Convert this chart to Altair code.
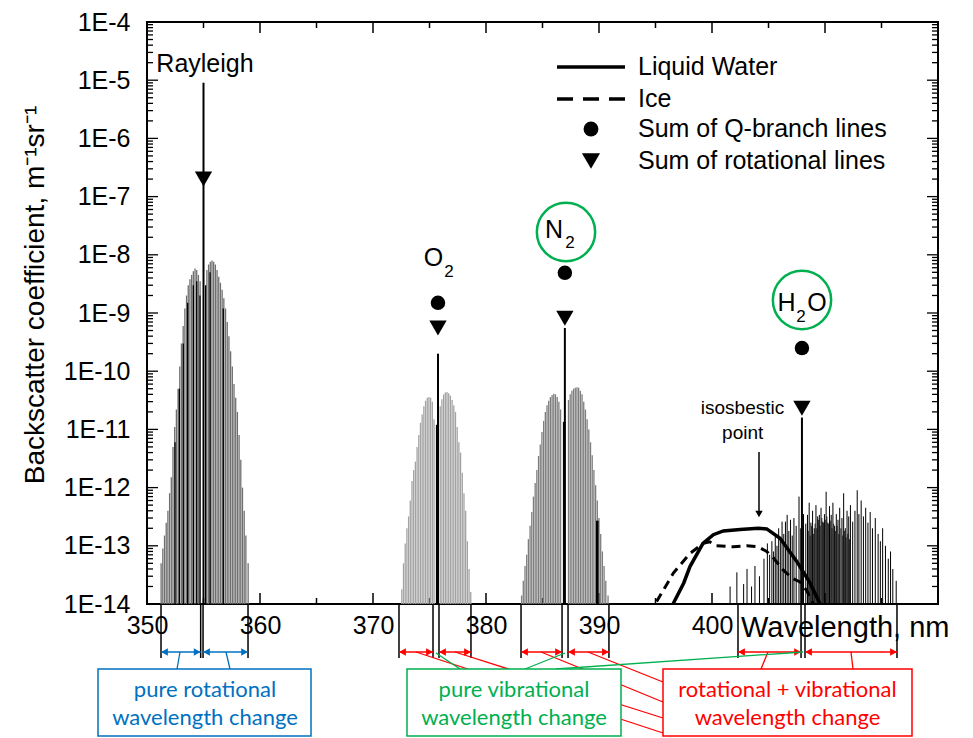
import altair as alt
import pandas as pd

FONT = "Liberation Sans"
BOXFONT = "Lato"
BLUE, GREEN, RED = "#0070C0", "#00B050", "#FF0000"
W, H = 791, 582

# ---------------- spectral data (wavelength nm, backscatter m^-1 sr^-1) ----------------
ray_wl = [351.25, 351.40, 351.55, 351.70, 351.85, 352.00, 352.15, 352.30, 352.45, 352.60, 352.75, 352.90,
          353.05, 353.20, 353.35, 353.50, 353.65, 353.80, 353.95, 354.10, 354.25, 354.40, 354.55, 354.70,
          355.30, 355.45, 355.60, 355.75, 355.90, 356.05, 356.20, 356.35, 356.50, 356.65, 356.80, 356.95,
          357.10, 357.25, 357.40, 357.55, 357.70, 357.85, 358.00, 358.15, 358.30, 358.45, 358.60, 358.75, 358.95]
ray_val = [5e-14, 9e-14, 1.5e-13, 2.5e-13, 4e-13, 8e-13, 1.5e-12, 5e-12, 1.1e-11, 2.2e-11, 5e-11, 1.2e-10,
           3e-10, 6e-10, 1.2e-9, 2e-9, 3e-9, 3.8e-9, 4.5e-9, 5.2e-9, 5.8e-9, 5.5e-9, 4.5e-9, 3.5e-9,
           5.5e-9, 6.8e-9, 7.6e-9, 8e-9, 7.6e-9, 6.8e-9, 5.5e-9, 4.2e-9, 3.3e-9, 2.5e-9, 1.8e-9, 1.2e-9,
           7e-10, 4e-10, 2.2e-10, 1.2e-10, 6e-11, 3.5e-11, 2e-11, 8e-12, 3e-12, 1e-12, 4e-13, 1.5e-13, 5e-14]
ray_black_wl = [352.48, 352.86, 353.21, 353.60, 354.10, 354.40, 354.69, 355.19, 355.58, 356.75]
ray_black_val = [6e-12, 5e-11, 3e-10, 1.5e-9, 3e-9, 3.5e-9, 2e-9, 3e-9, 5e-9, 1.2e-9]

o2_wl = [372.55, 372.70, 372.85, 373.00, 373.15, 373.30, 373.45, 373.60, 373.75, 373.90, 374.05, 374.20,
         374.35, 374.50, 374.65, 374.80, 374.95, 375.10, 375.25, 375.40,
         375.95, 376.10, 376.25, 376.40, 376.55, 376.70, 376.85, 377.00, 377.15, 377.30, 377.45, 377.60,
         377.75, 377.90, 378.05, 378.20, 378.35, 378.50, 378.65]
o2_val = [1.8e-14, 5e-14, 1.1e-13, 2e-13, 3.2e-13, 6e-13, 1.3e-12, 2e-12, 2.8e-12, 5e-12, 8e-12, 1.3e-11,
          1.8e-11, 2.5e-11, 3.1e-11, 3.5e-11, 3.6e-11, 3.5e-11, 3e-11, 1.5e-11,
          2.5e-11, 3.3e-11, 4e-11, 4.3e-11, 4.4e-11, 4.2e-11, 3.8e-11, 3.2e-11, 2.6e-11, 2e-11, 1.1e-11, 6e-12,
          4e-12, 1.8e-12, 8e-13, 4e-13, 1.2e-13, 4e-14, 1.6e-14]

n2_wl = [383.15, 383.30, 383.45, 383.60, 383.75, 383.90, 384.05, 384.20, 384.35, 384.50, 384.65, 384.80,
         384.95, 385.10, 385.25, 385.40, 385.55, 385.70, 385.85, 386.00, 386.15, 386.30, 386.45, 386.60,
         387.30, 387.45, 387.60, 387.75, 387.90, 388.05, 388.20, 388.35, 388.50, 388.65, 388.80, 388.95,
         389.10, 389.25, 389.40, 389.55, 389.70, 389.85, 390.00, 390.15, 390.30, 390.45, 390.60, 390.80]
n2_val = [1.4e-14, 2.5e-14, 4.5e-14, 7e-14, 1.3e-13, 2.2e-13, 3.8e-13, 7e-13, 1.2e-12, 2e-12, 3.5e-12, 5.5e-12,
          9e-12, 1.4e-11, 2e-11, 2.6e-11, 3.1e-11, 3.6e-11, 3.9e-11, 4.1e-11, 4e-11, 3.6e-11, 3e-11, 2.2e-11,
          3.2e-11, 4e-11, 4.6e-11, 5e-11, 5.2e-11, 5.3e-11, 5.2e-11, 4.6e-11, 4e-11, 3e-11, 2.2e-11, 1.5e-11,
          1e-11, 6e-12, 3.6e-12, 2e-12, 1.1e-12, 6e-13, 3e-13, 1.6e-13, 8e-14, 4.5e-14, 2.5e-14, 1.4e-14]

h2o_wl = [401.6, 402.2, 402.8, 403.1, 403.5, 403.8, 404.2, 404.6, 404.9, 405.1,
          405.3, 405.45, 405.6, 405.75, 405.9, 406.05, 406.2, 406.35, 406.5, 406.65,
          406.8, 406.95, 407.1, 407.25, 407.45, 407.7, 407.85, 408.1, 408.3, 408.45,
          408.6, 408.75, 408.9, 409.05, 409.2, 409.35, 409.5, 409.65, 409.8, 409.95,
          410.1, 410.25, 410.4, 410.55, 410.7, 410.85, 411.0, 411.15, 411.3, 411.5,
          411.65, 411.8, 411.95, 412.1, 412.25, 412.45, 412.65, 412.85, 413.0, 413.2,
          413.4, 413.6, 413.8, 414.0, 414.2, 414.45, 414.7, 414.9, 415.1, 415.35,
          415.6, 415.8, 416.0, 416.3]
h2o_val = [2e-14, 3.5e-14, 2.2e-14, 4e-14, 2e-14, 4.5e-14, 3e-14, 6e-14, 1.1e-13, 7e-14,
           1.2e-13, 8e-14, 1.5e-13, 1e-13, 2e-13, 1.4e-13, 2.6e-13, 1.6e-13, 2.6e-13, 3.4e-13,
           1.8e-13, 2.8e-13, 1.5e-13, 3e-13, 2.2e-13, 7e-13, 2e-13, 3.5e-13, 2.4e-13, 3.4e-13,
           5.5e-13, 2.5e-13, 4e-13, 2e-13, 5e-13, 3.2e-13, 3.4e-13, 4.5e-13, 2.6e-13, 3.5e-13,
           8.5e-13, 2.5e-13, 4.8e-13, 3.4e-13, 5.5e-13, 2.2e-13, 3.5e-13, 2.8e-13, 4.5e-13, 3e-13,
           8e-13, 2e-13, 4e-13, 3.2e-13, 5e-13, 2.6e-13, 4e-13, 9e-13, 3.5e-13, 6e-13,
           3.2e-13, 4.5e-13, 2.5e-13, 3.8e-13, 2e-13, 3e-13, 1.6e-13, 1.2e-13, 2e-13, 1e-13,
           6e-14, 8e-14, 4e-14, 2.5e-14]
h2o_dense_wl = [408.52, 408.68, 408.82, 408.97, 409.12, 409.27, 409.42, 409.57, 409.72, 409.87, 410.02, 410.17,
                410.32, 410.47, 410.62, 410.77, 410.92, 411.07, 411.22, 411.40, 411.57, 411.72, 411.87, 412.02, 412.17]
h2o_dense_val = [1.8e-13, 1.5e-13, 2.2e-13, 1.6e-13, 2.4e-13, 2e-13, 2.8e-13, 2.2e-13, 3e-13, 2.5e-13, 2.8e-13, 3.2e-13,
                 2.4e-13, 2.7e-13, 2e-13, 2.4e-13, 1.8e-13, 2.2e-13, 1.6e-13, 2e-13, 1.5e-13, 1.8e-13, 1.4e-13, 1.6e-13, 1.3e-13]

# strong central lines (Rayleigh, O2 / N2 / H2O Q-branches)
q_line_wl = [355.0, 375.75, 386.98, 407.96]
q_line_val = [9e-6, 2e-10, 5.5e-10, 1.6e-11]
q_core_wl = [375.68, 386.92, 389.85]
q_core_val = [1.2e-11, 1.35e-11, 2.7e-13]

# markers
qsum_wl = [375.75, 386.98, 407.96]
qsum_val = [1.5e-9, 4.9e-9, 2.5e-10]
rot_wl = [355.0, 375.75, 386.98, 407.96]
rot_val = [2e-7, 5.5e-10, 8.1e-10, 2.3e-11]

# liquid water and ice spectra
liq_wl = [396.55, 397.5, 398.05, 399.2, 400.12, 401.0, 402.48, 404.1, 404.84, 406.02, 407.5, 408.67, 409.56]
liq_val = [1e-14, 2.3e-14, 4.4e-14, 1.1e-13, 1.55e-13, 1.8e-13, 1.9e-13, 2.0e-13, 1.95e-13, 1.35e-13, 5.4e-14, 2.3e-14, 1e-14]
ice_wl = [395.1, 396.58, 398.05, 399.23, 399.8, 400.4, 401.9, 403.07, 404.1, 404.84, 405.43, 406.31, 407.2, 407.79, 408.38, 408.97]
ice_val = [1.1e-14, 3.4e-14, 7.4e-14, 1.1e-13, 1.17e-13, 1.0e-13, 9.6e-14, 1.0e-13, 9.6e-14, 8e-14, 6.2e-14, 3.8e-14, 2.7e-14, 2.4e-14, 1.7e-14, 1e-14]

# bracket marks below the axis
bracket_wl = [351.24, 354.75, 354.96, 358.94, 372.30, 375.31, 375.84, 378.67,
              383.10, 386.73, 387.26, 390.88, 402.30, 407.88, 408.23, 416.37]
arrow_start = [351.24, 354.96, 372.30, 375.84, 383.10, 387.26, 402.30, 408.23]
arrow_end = [354.75, 358.94, 375.31, 378.67, 386.73, 390.88, 407.88, 416.37]
arrow_color = [BLUE, BLUE, RED, RED, RED, RED, RED, RED]

# axis ticks
x_labels = [350, 360, 370, 380, 390, 400]
x_major = [350, 360, 370, 380, 390, 400, 410, 420]
x_minor = [355, 365, 375, 385, 395, 405, 415]
y_major = [10.0 ** e for e in range(-14, -3)]
y_minor = [k * 10.0 ** e for e in range(-14, -4) for k in range(2, 10)]

# ---------------- encodings ----------------
XS = alt.Scale(domain=[350, 420], nice=False, zero=False)
YS = alt.Scale(type="log", domain=[1e-14, 1e-4], nice=False)
XAX = alt.Axis(values=x_labels, title=None, ticks=False, domain=False, grid=False, labelFont=FONT,
               labelFontSize=25, labelColor="black", labelPadding=9, labelFlush=False, labelOverlap=False)
YAX = alt.Axis(values=y_major, title=None, ticks=False, domain=False, grid=False, labelFont=FONT,
               labelFontSize=25, labelColor="black", labelPadding=17, labelFlush=False, labelOverlap=False,
               labelExpr="'1E' + round(log(datum.value) / LN10)")


def X(f="wl"):
    return alt.X(f"{f}:Q", scale=XS, axis=XAX)


def Y(f="val"):
    return alt.Y(f"{f}:Q", scale=YS, axis=YAX)


def PX(f):
    return alt.X(f"{f}:Q", scale=None, axis=None)


def PY(f):
    return alt.Y(f"{f}:Q", scale=None, axis=None)


layers = []

# ticks (inward, all four sides)
for vals, ln in ((x_major, 11), (x_minor, 6)):
    d = pd.DataFrame({"wl": vals})
    layers.append(alt.Chart(d).mark_rule(color="black", strokeWidth=1.5).encode(x=X(), y=alt.value(H), y2=alt.value(H - ln)))
    layers.append(alt.Chart(d).mark_rule(color="black", strokeWidth=1.5).encode(x=X(), y=alt.value(0), y2=alt.value(ln)))
for vals, ln in ((y_major, 11), (y_minor, 6)):
    d = pd.DataFrame({"val": vals})
    layers.append(alt.Chart(d).mark_rule(color="black", strokeWidth=1.3).encode(y=Y(), x=alt.value(0), x2=alt.value(ln)))
    layers.append(alt.Chart(d).mark_rule(color="black", strokeWidth=1.3).encode(y=Y(), x=alt.value(W), x2=alt.value(W - ln)))


def band(wl, val, color, width):
    d = pd.DataFrame({"wl": wl, "val": val})
    return alt.Chart(d).mark_rule(color=color, strokeWidth=width).encode(x=X(), y=Y(), y2=alt.value(H))


layers += [
    band(ray_wl, ray_val, "#6f6f6f", 1.3),
    band(ray_black_wl, ray_black_val, "black", 1.3),
    band(o2_wl, o2_val, "#a3a3a3", 1.3),
    band(n2_wl, n2_val, "#7d7d7d", 1.3),
    band(h2o_wl, h2o_val, "black", 1.0),
    band(h2o_dense_wl, h2o_dense_val, "black", 0.8),
    band(q_core_wl, q_core_val, "black", 2.6),
    band(q_line_wl, q_line_val, "black", 2.0),
]

# water / ice curves
layers.append(alt.Chart(pd.DataFrame({"wl": liq_wl, "val": liq_val})).mark_line(color="black", strokeWidth=3.5).encode(x=X(), y=Y()))
layers.append(alt.Chart(pd.DataFrame({"wl": ice_wl, "val": ice_val})).mark_line(color="black", strokeWidth=3, strokeDash=[9, 6]).encode(x=X(), y=Y()))

# markers
layers.append(alt.Chart(pd.DataFrame({"wl": qsum_wl, "val": qsum_val})).mark_point(shape="circle", filled=True, size=210, color="black", opacity=1).encode(x=X(), y=Y()))
layers.append(alt.Chart(pd.DataFrame({"wl": rot_wl, "val": rot_val})).mark_point(shape="triangle-down", filled=True, size=300, color="black", opacity=1).encode(x=X(), y=Y()))

# green circles around N2 and H2O
circ = pd.DataFrame({"px": [419, 655], "py": [210, 278]})
layers.append(alt.Chart(circ).mark_point(shape="circle", filled=False, size=3400, color=GREEN, strokeWidth=2.5, opacity=1).encode(x=PX("px"), y=PY("py")))


def texts(rows, size, color="black", font=FONT, align="center", angle=0):
    d = pd.DataFrame(rows, columns=["px", "py", "t"])
    return alt.Chart(d).mark_text(font=font, fontSize=size, color=color, align=align, baseline="middle", angle=angle).encode(
        x=PX("px"), y=PY("py"), text="t:N")


layers.append(texts([(58, 42, "Rayleigh"), (286.5, 236, "O"), (407, 208, "N"), (639.5, 281, "H"), (670, 281, "O")], 25))
layers.append(texts([(302, 250, "2"), (423, 221, "2"), (654, 295, "2")], 17))
layers.append(texts([(595.5, 386, "isosbestic"), (595.7, 411, "point")], 19))
layers.append(texts([(491, 45, "Liquid Water"), (491, 77, "Ice"), (491, 107, "Sum of Q-branch lines"),
                     (491, 139, "Sum of rotational lines")], 25, align="left"))
layers.append(texts([(594, 606, "Wavelength, nm")], 29, align="left"))
layers.append(texts([(-111, 273, "Backscatter coefficient, m\u207b\u00b9sr\u207b\u00b9")], 28, angle=270))

# isosbestic arrow
layers.append(alt.Chart(pd.DataFrame({"a": [0]})).mark_rule(color="black", strokeWidth=1.5).encode(
    x=alt.value(612), y=alt.value(430), y2=alt.value(490)))
layers.append(alt.Chart(pd.DataFrame({"a": [0]})).mark_point(shape="triangle-down", filled=True, size=55, color="black", opacity=1).encode(
    x=alt.value(612), y=alt.value(492)))

# legend samples
leg = pd.DataFrame({"x1": [410], "x2": [478], "y1": [45]})
layers.append(alt.Chart(leg).mark_rule(color="black", strokeWidth=3.5).encode(x=PX("x1"), x2="x2:Q", y=PY("y1")))
leg2 = pd.DataFrame({"x1": [410], "x2": [478], "y1": [77]})
layers.append(alt.Chart(leg2).mark_rule(color="black", strokeWidth=3.5, strokeDash=[16, 10]).encode(x=PX("x1"), x2="x2:Q", y=PY("y1")))
layers.append(alt.Chart(pd.DataFrame({"px": [444], "py": [107]})).mark_point(shape="circle", filled=True, size=220, color="black", opacity=1).encode(x=PX("px"), y=PY("py")))
layers.append(alt.Chart(pd.DataFrame({"px": [444], "py": [139]})).mark_point(shape="triangle-down", filled=True, size=330, color="black", opacity=1).encode(x=PX("px"), y=PY("py")))

# ---------------- annotation below the axis ----------------
layers.append(alt.Chart(pd.DataFrame({"wl": bracket_wl})).mark_rule(color="black", strokeWidth=1.5).encode(
    x=X(), y=alt.value(H + 1), y2=alt.value(636)))
arr = pd.DataFrame({"wl": arrow_start, "wl2": arrow_end, "c": arrow_color})
layers.append(alt.Chart(arr).mark_rule(strokeWidth=1.5).encode(x=X(), x2="wl2:Q", y=alt.value(630), color=alt.Color("c:N", scale=None)))
layers.append(alt.Chart(arr).mark_point(shape="triangle-left", filled=True, size=60, opacity=1).encode(
    x=X(), y=alt.value(630), xOffset=alt.value(3.5), color=alt.Color("c:N", scale=None)))
arr_r = pd.DataFrame({"wl": arrow_end, "c": arrow_color})
layers.append(alt.Chart(arr_r).mark_point(shape="triangle-right", filled=True, size=60, opacity=1).encode(
    x=X(), y=alt.value(630), xOffset=alt.value(-3.5), color=alt.Color("c:N", scale=None)))

conn = pd.DataFrame([
    (33, 630, 30, 647, BLUE), (79, 630, 83, 647, BLUE),
    (269, 630, 516, 711, RED), (308, 630, 516, 696, RED), (394, 630, 516, 680, RED), (441, 630, 516, 660, RED),
    (621, 630, 614, 647, RED), (704, 630, 706, 647, RED),
    (289, 631, 313, 647, GREEN), (418, 631, 378, 647, GREEN), (656, 630, 409, 647, GREEN),
], columns=["x1", "y1", "x2", "y2", "c"])
layers.append(alt.Chart(conn).mark_rule(strokeWidth=1.3).encode(
    x=PX("x1"), y=PY("y1"), x2="x2:Q", y2="y2:Q", color=alt.Color("c:N", scale=None)))

boxes = pd.DataFrame([(-49, 164, BLUE), (260, 474, GREEN), (516, 765, RED)], columns=["x1", "x2", "c"])
boxes["y1"] = 647
boxes["y2"] = 714
layers.append(alt.Chart(boxes).mark_rect(fill="white", strokeWidth=1.5).encode(
    x=PX("x1"), x2="x2:Q", y=PY("y1"), y2="y2:Q", stroke=alt.Stroke("c:N", scale=None)))

layers.append(texts([(58, 668, "pure rotational"), (58, 696, "wavelength change")], 22, color=BLUE, font=BOXFONT))
layers.append(texts([(367, 668, "pure vibrational"), (367, 696, "wavelength change")], 22, color=GREEN, font=BOXFONT))
layers.append(texts([(640.5, 668, "rotational + vibrational"), (640.5, 696, "wavelength change")], 22, color=RED, font=BOXFONT))

chart = alt.layer(*layers).properties(
    width=W, height=H,
    autosize=alt.AutoSizeParams(type="none"),
    padding={"left": 147, "top": 22, "right": 35, "bottom": 134},
    background="white",
).configure_view(stroke="black", strokeWidth=2)

chart.save("out.html", embed_options={"renderer": "svg", "actions": False})
